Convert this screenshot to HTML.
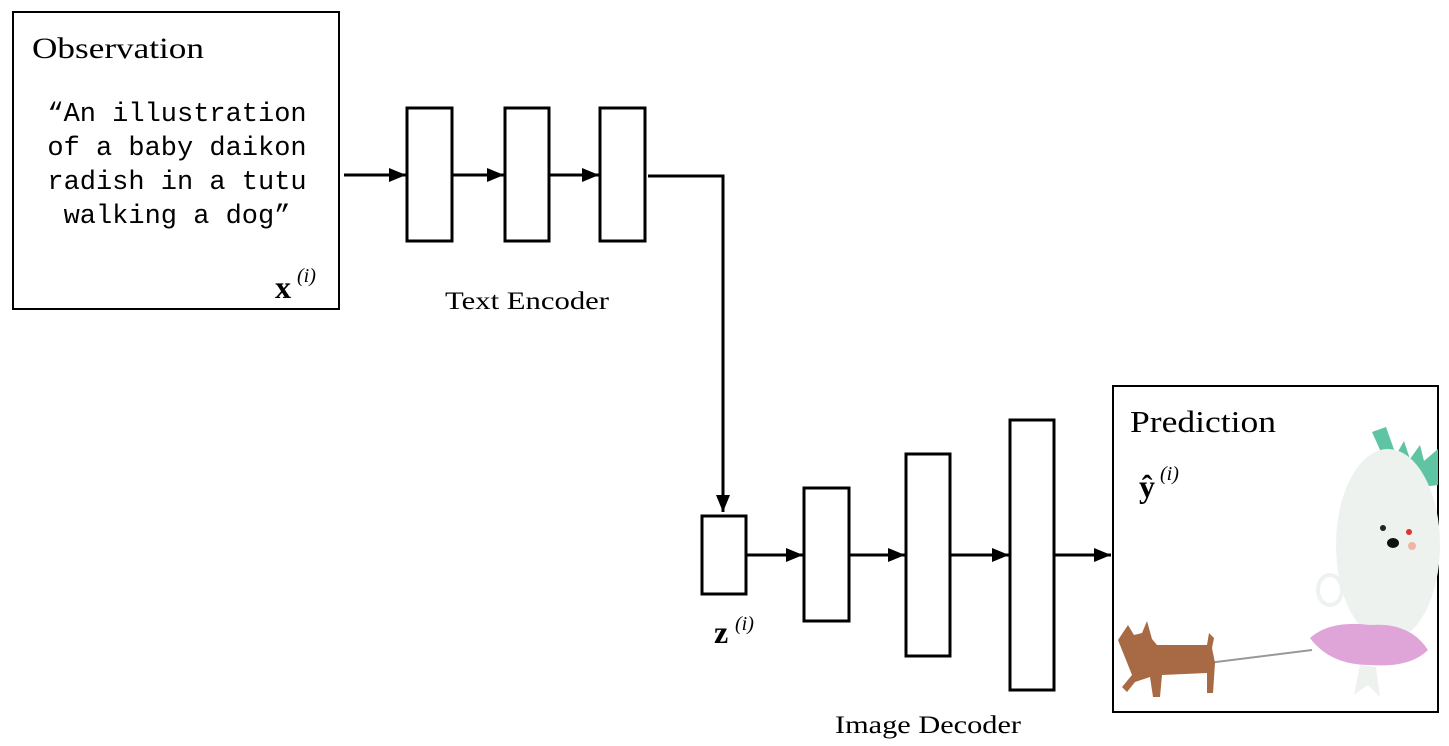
<!DOCTYPE html>
<html><head><meta charset="utf-8"><style>
body{margin:0;background:#fff;}
svg{display:block;}
.serif{font-family:"Liberation Serif",serif;}
.mono{font-family:"Liberation Mono",monospace;}
</style></head><body>
<svg width="1449" height="746" viewBox="0 0 1449 746" xmlns="http://www.w3.org/2000/svg">
<defs>
<marker id="b" viewBox="0 0 17 14" markerWidth="17" markerHeight="14" refX="17" refY="7" orient="auto" markerUnits="userSpaceOnUse"><path d="M0,0 L17,7 L0,14z" fill="#000"/></marker></defs>
<g fill="none" stroke="#000" stroke-width="2">
<rect x="13" y="12" width="326" height="297"/>
<rect x="1113" y="386" width="325" height="326"/>
</g>
<g fill="#fff" stroke="#000" stroke-width="3">
<rect x="407" y="108" width="45" height="133"/>
<rect x="505" y="108" width="44" height="133"/>
<rect x="600" y="108" width="45" height="133"/>
<rect x="702" y="516" width="44" height="78"/>
<rect x="804" y="488" width="45" height="133"/>
<rect x="906" y="454" width="44" height="202"/>
<rect x="1010" y="420" width="44" height="270"/>
</g>
<g stroke="#000" stroke-width="3" fill="none" marker-end="url(#b)">
<line x1="344" y1="175" x2="406" y2="175"/>
<line x1="452" y1="175" x2="504" y2="175"/>
<line x1="549" y1="175" x2="599" y2="175"/>
<polyline points="648,176 723,176 723,512"/>
<line x1="746" y1="555" x2="803" y2="555"/>
<line x1="849" y1="555" x2="905" y2="555"/>
<line x1="950" y1="555" x2="1009" y2="555"/>
<line x1="1054" y1="555" x2="1111" y2="555"/>
</g>
<text x="32" y="58" class="serif" font-size="30" textLength="172" lengthAdjust="spacingAndGlyphs">Observation</text>
<g class="mono" font-size="27" text-anchor="middle">
<text x="177" y="121">“An illustration</text>
<text x="177" y="155">of a baby daikon</text>
<text x="177" y="189">radish in a tutu</text>
<text x="177" y="223">walking a dog”</text>
</g>
<text x="275" y="298" class="serif" font-size="32" font-weight="bold">x</text>
<text x="297" y="282" class="serif" font-size="20" font-style="italic">(i)</text>
<text x="445" y="309" class="serif" font-size="25" textLength="164" lengthAdjust="spacingAndGlyphs">Text Encoder</text>
<text x="714" y="643" class="serif" font-size="32" font-weight="bold">z</text>
<text x="735" y="630" class="serif" font-size="20" font-style="italic">(i)</text>
<text x="835" y="733" class="serif" font-size="25" textLength="186" lengthAdjust="spacingAndGlyphs">Image Decoder</text>
<text x="1130" y="432" class="serif" font-size="31" textLength="146" lengthAdjust="spacingAndGlyphs">Prediction</text>
<text x="1139" y="497" class="serif" font-size="32" font-weight="bold">ŷ</text>
<text x="1160" y="480" class="serif" font-size="20" font-style="italic">(i)</text>
<!-- illustration -->
<path d="M1372,432 l14,-5 l10,28 l8,-14 l6,18 l10,-14 l4,16 l14,-12 l0,36 l-40,5z" fill="#5fc4a3"/>
<ellipse cx="1388" cy="545" rx="52" ry="96" fill="#eef2ee"/>
<ellipse cx="1330" cy="590" rx="12" ry="15" fill="none" stroke="#eef2ee" stroke-width="4"/>
<circle cx="1383" cy="528" r="3" fill="#222"/>
<ellipse cx="1393" cy="543" rx="6" ry="5" fill="#111"/>
<circle cx="1409" cy="532" r="3" fill="#d33"/>
<circle cx="1412" cy="546" r="4" fill="#f2b4a4"/>
<path d="M1310,638 Q1330,620 1370,625 Q1410,622 1428,650 Q1410,668 1370,665 Q1330,665 1310,638z" fill="#e0a5d8"/>
<path d="M1360,665 l-6,30 l14,-10 l12,12 l-4,-30z" fill="#eef2ee"/>
<line x1="1208" y1="663" x2="1312" y2="650" stroke="#999" stroke-width="2"/>
<path d="M1118,640 l10,-15 l6,10 l8,-2 l5,-12 l5,18 l5,6 l50,0 l2,-12 l5,5 l-2,10 l3,15 l-2,30 l-6,0 l0,-20 l-45,2 l-2,22 l-7,0 l-3,-20 l-15,5 l-8,10 l-5,-5 l10,-12z" fill="#a86a45"/>
</svg>
</body></html>
